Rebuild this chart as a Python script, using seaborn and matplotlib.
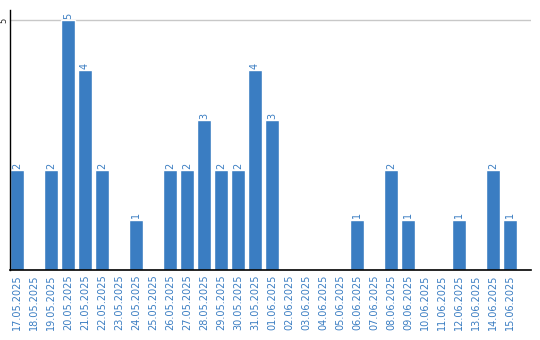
import matplotlib
matplotlib.use("Agg")
import matplotlib.pyplot as plt
import seaborn as sns
import pandas as pd

dates = ["17.05.2025", "18.05.2025", "19.05.2025", "20.05.2025", "21.05.2025",
         "22.05.2025", "23.05.2025", "24.05.2025", "25.05.2025", "26.05.2025",
         "27.05.2025", "28.05.2025", "29.05.2025", "30.05.2025", "31.05.2025",
         "01.06.2025", "02.06.2025", "03.06.2025", "04.06.2025", "05.06.2025",
         "06.06.2025", "07.06.2025", "08.06.2025", "09.06.2025", "10.06.2025",
         "11.06.2025", "12.06.2025", "13.06.2025", "14.06.2025", "15.06.2025"]
counts = [2, 0, 2, 5, 4, 2, 0, 1, 0, 2, 2, 3, 2, 2, 4, 3, 0, 0, 0, 0,
          1, 0, 2, 1, 0, 0, 1, 0, 2, 1]

BLUE = "#3a7dc2"
sns.set_theme(style="white")
plt.rcParams['font.family'] = ['DejaVu Sans']

df = pd.DataFrame({"date": dates, "count": counts})
fig = plt.figure(figsize=(5.4, 3.4), dpi=100)
ax = fig.add_axes([10/540, 70/340, 521/540, 260/340])
sns.barplot(data=df, x="date", y="count", color=BLUE, saturation=1, width=0.82, ax=ax)

for i, v in enumerate(counts):
    if v > 0:
        ax.text(i, v + 0.03, str(v), rotation=90, ha="center", va="bottom",
                color=BLUE, fontsize=7)

ax.set_xlim(-0.41, 30.24)
ax.set_ylim(0, 5.2)
ax.set_yticks([5])
ax.set_yticklabels(["5"], rotation=90, va="center", fontsize=6, color="#222222")
ax.axhline(5, color="#c8c8c8", lw=1, zorder=0)
ax.tick_params(axis="x", labelrotation=90, labelsize=7, labelcolor=BLUE, length=0, pad=3)
ax.tick_params(axis="y", length=0, pad=1.5)
ax.set_xlabel("")
ax.set_ylabel("")
for s in ["top", "right"]:
    ax.spines[s].set_visible(False)
ax.spines["left"].set_color("black")
ax.spines["bottom"].set_color("black")
ax.spines["left"].set_linewidth(1)
ax.spines["bottom"].set_linewidth(1.2)
fig.savefig("out.png", dpi=100)
